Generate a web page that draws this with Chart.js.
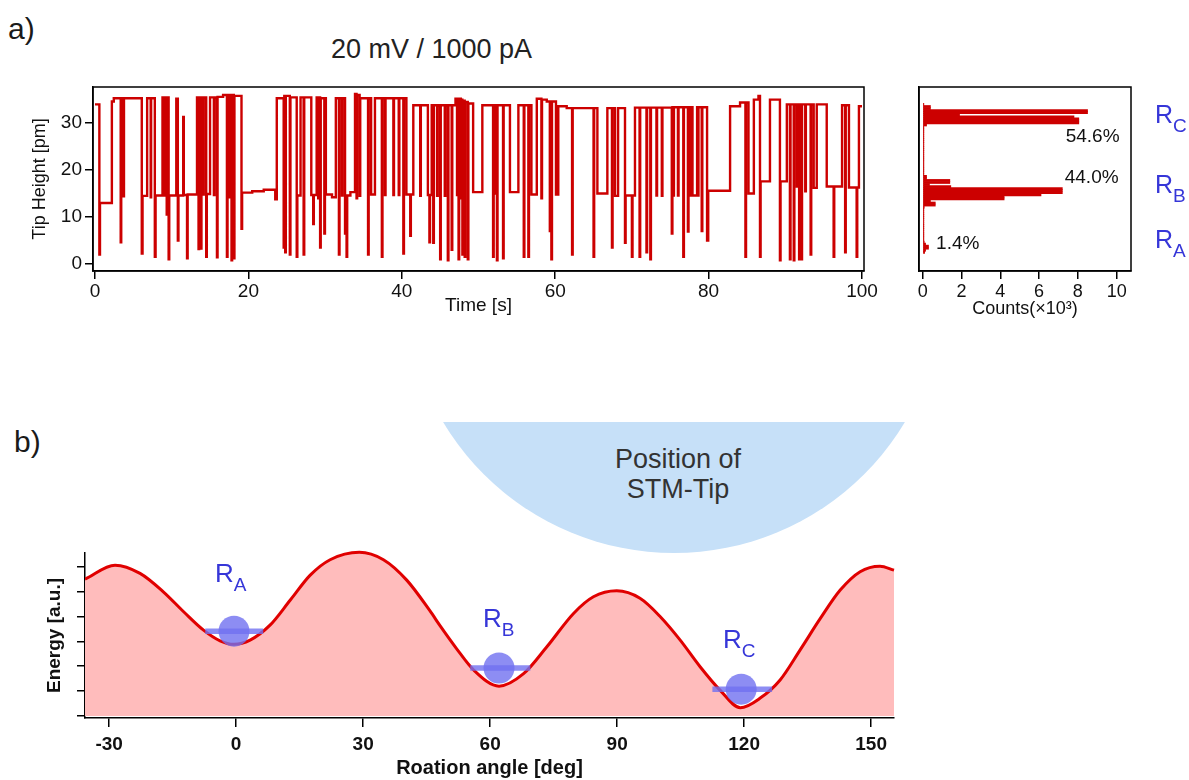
<!doctype html>
<html lang="en">
<head>
<meta charset="utf-8">
<title>Tip height switching</title>
<style>
  * { margin: 0; padding: 0; }
  body { width: 1189px; height: 780px; background: #fff; position: relative; overflow: hidden;
         font-family: 'Liberation Sans', Arial, sans-serif; }
  canvas, .txt, .tip { position: absolute; }
  .txt { line-height: 1; white-space: nowrap; color: #1a1a1a; }
  .tip { left: 443px; top: 422px; width: 462px; height: 131px; overflow: hidden; }
  .tip div { position: absolute; left: -38px; top: -407px; width: 538px; height: 538px;
             border-radius: 50%; background: #c6e0f8; }
  .tipText { position: absolute; left: 578px; top: 445px; width: 200px; text-align: center;
             font-size: 27px; line-height: 29.5px; color: #333; }
</style>
</head>
<body>
  <div class="tip"><div></div></div>
  <div class="txt" style="left:8px;top:14px;font-size:30px;">a)</div>
  <div class="txt" style="left:14px;top:427px;font-size:30px;">b)</div>
  <div class="txt" style="left:331px;top:36px;font-size:27px;color:#222;">20 mV / 1000 pA</div>
  <div class="tipText">Position of<br>STM-Tip</div>

  <canvas id="traceChart" width="880" height="260" style="left:0;top:60px;"></canvas>
  <canvas id="histChart" width="309" height="260" style="left:880px;top:60px;"></canvas>
  <canvas id="energyChart" width="1189" height="260" style="left:0;top:520px;"></canvas>

  <script src="https://cdn.jsdelivr.net/npm/chart.js"></script>
  <script>
    // time trace, step levels (value holds from its time on)
    const traceTime = [
      0.00, 0.57, 0.65, 2.20, 2.45, 3.35, 3.42, 3.70, 3.78, 6.10,
      6.20, 6.80, 7.26, 7.32, 7.80, 7.90, 8.80, 9.05, 9.12, 9.35,
      9.42, 9.60, 9.68, 10.60, 10.80, 10.88, 11.50, 11.58, 12.00, 12.08,
      13.30, 13.50, 13.58, 13.80, 13.88, 14.10, 14.18, 14.50, 14.58, 15.00,
      15.50, 15.58, 15.90, 15.98, 16.70, 17.20, 17.28, 17.50, 17.58, 17.80,
      17.88, 18.10, 18.18, 19.10, 19.18, 20.50, 22.00, 23.50, 23.70, 24.60,
      24.68, 24.80, 24.88, 25.40, 25.48, 26.30, 26.38, 26.80, 27.20, 27.28,
      28.20, 28.45, 28.53, 28.90, 29.10, 29.18, 29.35, 29.43, 29.90, 29.98,
      30.10, 30.90, 31.40, 31.80, 31.88, 32.20, 32.28, 32.60, 32.68, 32.80,
      32.88, 33.30, 33.90, 34.10, 34.18, 34.50, 34.58, 35.60, 35.68, 36.00,
      36.50, 37.40, 37.48, 37.80, 37.88, 38.90, 38.98, 39.60, 39.68, 40.20,
      40.28, 40.60, 41.10, 41.18, 41.50, 42.40, 42.48, 43.40, 43.60, 43.68,
      43.90, 44.10, 44.18, 44.60, 44.68, 45.00, 45.08, 45.60, 45.68, 46.00,
      46.08, 46.50, 46.58, 47.00, 47.20, 47.28, 47.40, 47.48, 47.70, 47.78,
      47.90, 47.98, 48.20, 48.28, 48.60, 48.68, 49.30, 50.50, 51.90, 51.98,
      52.20, 52.40, 52.48, 53.20, 53.28, 54.10, 55.20, 55.90, 55.98, 56.50,
      56.58, 56.90, 57.60, 58.20, 58.28, 58.90, 59.30, 59.38, 59.50, 59.58,
      60.10, 60.40, 61.50, 62.20, 62.28, 65.00, 65.08, 65.50, 66.80, 67.40,
      67.48, 67.80, 68.20, 69.10, 69.18, 70.00, 70.08, 70.40, 71.00, 71.08,
      71.90, 71.98, 72.40, 72.48, 73.20, 73.28, 73.90, 73.98, 75.20, 75.28,
      75.40, 75.48, 76.00, 76.08, 76.70, 76.78, 77.30, 77.38, 77.60, 77.90,
      78.50, 78.60, 78.68, 79.10, 79.18, 79.80, 79.95, 82.80, 84.10, 84.80,
      84.88, 85.20, 85.90, 86.50, 86.70, 86.78, 88.00, 89.30, 89.38, 90.20,
      90.60, 90.68, 91.10, 91.18, 91.50, 91.58, 91.80, 91.88, 92.10, 92.18,
      92.60, 92.68, 93.30, 93.38, 93.70, 94.10, 95.40, 96.30, 96.38, 97.40,
      97.80, 97.88, 98.30, 99.30, 99.38, 99.60, 100.00
    ];
    const traceHeight = [
      34.0, 2.0, 13.0, 34.6, 35.3, 4.6, 35.3, 14.4, 35.3, 2.2,
      14.5, 35.3, 14.2, 35.3, 1.5, 14.6, 35.5, 14.6, 35.5, 10.5,
      35.5, 1.0, 14.6, 35.2, 5.0, 14.6, 31.3, 14.7, 1.2, 14.8,
      35.5, 3.2, 35.5, 3.3, 35.5, 14.8, 35.5, 1.5, 14.9, 35.5,
      14.7, 35.5, 1.4, 35.6, 36.0, 1.5, 36.0, 14.2, 36.0, 0.8,
      36.0, 1.2, 35.8, 7.5, 15.2, 15.5, 15.8, 13.8, 35.3, 3.5,
      35.8, 2.5, 35.8, 2.0, 35.5, 1.5, 14.6, 35.5, 2.0, 35.5,
      14.7, 8.5, 14.7, 35.5, 14.0, 35.5, 3.5, 35.3, 6.5, 35.3,
      14.8, 14.2, 35.3, 2.0, 35.3, 14.6, 35.3, 6.5, 14.6, 1.5,
      14.6, 15.3, 36.2, 14.0, 36.0, 14.5, 35.3, 2.0, 35.3, 14.8,
      35.3, 1.5, 35.3, 14.7, 35.3, 14.7, 35.3, 14.7, 35.3, 2.2,
      35.3, 14.8, 6.0, 14.8, 33.8, 14.5, 33.8, 14.7, 4.6, 14.7,
      33.8, 4.5, 33.8, 14.5, 33.8, 1.0, 33.8, 14.5, 33.8, 0.8,
      33.8, 3.0, 33.8, 35.2, 14.7, 35.2, 1.0, 35.2, 14.0, 35.0,
      2.0, 34.8, 1.5, 34.5, 1.0, 34.2, 15.3, 33.8, 1.5, 33.8,
      15.0, 0.8, 33.8, 1.2, 33.8, 15.3, 33.8, 1.5, 33.8, 1.5,
      33.8, 14.8, 35.2, 14.0, 35.0, 34.6, 7.0, 34.6, 1.0, 34.6,
      14.8, 33.6, 33.2, 2.0, 33.2, 1.5, 33.2, 15.0, 33.2, 3.5,
      33.2, 14.5, 33.2, 4.5, 14.6, 1.5, 14.6, 33.3, 1.5, 33.3,
      2.5, 33.3, 1.0, 33.3, 14.6, 33.3, 14.5, 33.3, 6.5, 33.4,
      14.6, 33.4, 14.6, 33.4, 1.5, 33.4, 6.9, 14.6, 33.4, 14.6,
      33.4, 14.6, 33.4, 7.0, 33.4, 5.0, 15.6, 33.6, 34.4, 1.5,
      34.4, 15.0, 35.0, 35.8, 1.5, 17.6, 35.0, 0.8, 17.6, 34.0,
      1.0, 34.0, 0.8, 34.0, 16.5, 34.0, 1.0, 34.0, 1.0, 34.0,
      15.5, 34.0, 2.0, 34.0, 16.2, 34.0, 16.5, 1.5, 16.5, 33.8,
      2.5, 33.8, 16.3, 1.5, 16.3, 33.6, 33.6
    ];
    const timeTicks = [0, 20, 40, 60, 80, 100];
    const heightTicks = [0, 10, 20, 30];

    // histogram of tip height (bin centres in pm, counts in 10^3)
    const histHeight = [
      0.25, 0.75, 1.25, 1.75, 2.25, 2.75, 3.25, 3.75, 4.25, 4.75,
      5.25, 5.75, 6.25, 6.75, 7.25, 7.75, 8.25, 8.75, 9.25, 9.75,
      10.25, 10.75, 11.25, 11.75, 12.25, 12.75, 13.25, 13.75, 14.25, 14.75,
      15.25, 15.75, 16.25, 16.75, 17.25, 17.75, 18.25, 18.75, 19.25, 19.75,
      20.25, 20.75, 21.25, 21.75, 22.25, 22.75, 23.25, 23.75, 24.25, 24.75,
      25.25, 25.75, 26.25, 26.75, 27.25, 27.75, 28.25, 28.75, 29.25, 29.75,
      30.25, 30.75, 31.25, 31.75, 32.25, 32.75, 33.25, 33.75, 34.25, 34.75,
      35.25, 35.75, 36.25
    ];
    const histCount = [
      0.10, 0.15, 0.30, 0.30, 0.15, 0.08, 0.06, 0.06, 0.06, 0.06,
      0.06, 0.06, 0.06, 0.06, 0.06, 0.06, 0.06, 0.06, 0.06, 0.06,
      0.06, 0.06, 0.08, 0.65, 0.65, 0.40, 4.20, 4.20, 6.10, 7.20,
      7.20, 7.20, 1.45, 0.35, 1.40, 1.40, 0.20, 0.20, 0.06, 0.06,
      0.06, 0.06, 0.06, 0.06, 0.06, 0.06, 0.06, 0.06, 0.06, 0.06,
      0.06, 0.06, 0.06, 0.06, 0.06, 0.06, 0.06, 0.06, 0.06, 0.06,
      0.06, 0.06, 0.20, 8.05, 8.05, 8.05, 7.80, 1.90, 8.50, 8.50,
      0.40, 0.40, 0.06
    ];
    const countTicks = [0, 2, 4, 6, 8, 10];
    const pctText = ['54.6%', '44.0%', '1.4%'];
    const pctCount = [10.15, 10.1, 0.69];
    const pctHeight = [28.3, 18.3, 2.3];
    const pctAlign = ['right', 'right', 'left'];
    const sideSub = ['C', 'B', 'A'];
    const sideHeight = [33.9, 16.8, 3.4];

    // energy landscape
    const angle = [
      -35.7, -28.6, -22.7, -17.2, -12.4, -7.7, -3.8, -0.5, 3.3, 8.0,
      12.8, 17.5, 22.2, 29.1, 34.8, 40.3, 45.8, 48.2, 52.1, 56.1,
      62.1, 67.9, 73.4, 79.7, 84.4, 89.9, 95.4, 100.2, 104.9, 109.6,
      114.3, 119.1, 123.8, 128.5, 133.2, 138.0, 142.7, 147.4, 152.1, 155.4
    ];
    const energy = [
      5.50, 6.06, 5.73, 4.99, 4.19, 3.45, 3.02, 2.88, 3.05, 3.65,
      4.66, 5.66, 6.28, 6.58, 6.28, 5.46, 4.22, 3.62, 2.70, 1.85,
      1.20, 1.70, 2.78, 4.12, 4.79, 5.03, 4.73, 3.99, 3.05, 1.98,
      1.04, 0.33, 0.72, 1.45, 2.65, 3.92, 5.06, 5.80, 6.02, 5.86
    ];
    const angleTicks = [-30, 0, 30, 60, 90, 120, 150];
    const energyTicks = [0, 1, 2, 3, 4, 5, 6];
    const wellSub = ['A', 'B', 'C'];
    const wellAngle = [-0.5, 62.1, 119.3];
    const wellEnergy = [3.41, 1.93, 1.08];
    const wellFrom = [-7.3, 55.3, 112.5];
    const wellTo = [6.4, 69.5, 126.6];
    const wellLabelAngle = [-5.0, 58.3, 115.0];
    const wellLabelEnergy = [5.74, 3.94, 3.09];

    const fontFamily = "'Liberation Sans', Arial, sans-serif";
    const traceRed = '#cc0000';
    const labelBlue = '#3636d8';
    const ballBlue = 'rgba(112, 112, 240, 0.8)';
    Chart.defaults.font.family = fontFamily;
    Chart.defaults.color = '#111';
    Chart.defaults.animation = false;
    Chart.defaults.plugins.legend.display = false;
    Chart.defaults.plugins.tooltip.enabled = false;

    const setTicks = list => scale => { scale.ticks = list.map(v => ({ value: v })); };
    const tickGrid = len => ({ drawOnChartArea: false, drawTicks: true, tickLength: len, color: '#000', lineWidth: 1.5 });
    const axisLine = { display: true, color: '#000', width: 1.5 };

    function drawSubLabel(ctx, x, yCenter, sub, size, subSize) {
      ctx.save();
      ctx.fillStyle = labelBlue;
      ctx.textAlign = 'left';
      ctx.textBaseline = 'alphabetic';
      ctx.font = size + 'px ' + fontFamily;
      const base = yCenter + size * 0.358;
      ctx.fillText('R', x, base);
      const w = ctx.measureText('R').width;
      ctx.font = subSize + 'px ' + fontFamily;
      ctx.fillText(sub, x + w, base + subSize * 0.47);
      ctx.restore();
    }

    const framePlugin = {
      id: 'frame',
      afterDraw(chart) {
        const { ctx, chartArea: a } = chart;
        ctx.save();
        ctx.strokeStyle = '#000';
        ctx.lineWidth = 1.5;
        ctx.strokeRect(a.left, a.top, a.right - a.left, a.bottom - a.top);
        ctx.restore();
      }
    };

    // a) tip height trace
    new Chart(document.getElementById('traceChart'), {
      type: 'line',
      data: {
        datasets: [{
          data: traceTime.map((t, i) => ({ x: t, y: traceHeight[i] })),
          stepped: true,
          borderColor: traceRed,
          borderWidth: 2.4,
          pointRadius: 0
        }]
      },
      options: {
        responsive: false,
        devicePixelRatio: 1,
        layout: { padding: { left: 0, top: 27, right: 16, bottom: 0 } },
        scales: {
          x: {
            type: 'linear', min: -0.26, max: 100.26,
            afterBuildTicks: setTicks(timeTicks),
            afterFit: s => { s.height = 49; },
            grid: tickGrid(8),
            border: axisLine,
            ticks: { font: { size: 19 }, padding: 1, maxRotation: 0 },
            title: { display: true, text: 'Time [s]', font: { size: 19 }, padding: { top: 0, bottom: 2.6 } }
          },
          y: {
            type: 'linear', min: -1.5, max: 37.7,
            afterBuildTicks: setTicks(heightTicks),
            afterFit: s => { s.width = 93; },
            grid: tickGrid(8),
            border: axisLine,
            ticks: { font: { size: 19 }, padding: 3 },
            title: { display: true, text: 'Tip Height [pm]', font: { size: 18 }, padding: { top: 29.2, bottom: 0 } }
          }
        }
      },
      plugins: [framePlugin]
    });

    // a) histogram
    const histLabels = {
      id: 'histLabels',
      afterDraw(chart) {
        const { ctx, scales: { x, y }, chartArea } = chart;
        ctx.save();
        ctx.fillStyle = '#111';
        ctx.font = '19px ' + fontFamily;
        ctx.textBaseline = 'middle';
        pctText.forEach((t, i) => {
          ctx.textAlign = pctAlign[i];
          ctx.fillText(t, x.getPixelForValue(pctCount[i]), y.getPixelForValue(pctHeight[i]));
        });
        ctx.restore();
        sideSub.forEach((s, i) => {
          drawSubLabel(ctx, chartArea.right + 24, y.getPixelForValue(sideHeight[i]), s, 25, 19);
        });
      }
    };
    new Chart(document.getElementById('histChart'), {
      type: 'bar',
      data: {
        datasets: [{
          data: histHeight.map((h, i) => ({ x: histCount[i], y: h })),
          backgroundColor: traceRed,
          borderWidth: 0,
          barPercentage: 1,
          categoryPercentage: 1
        }]
      },
      options: {
        responsive: false,
        devicePixelRatio: 1,
        indexAxis: 'y',
        layout: { padding: { left: 0, top: 27, right: 58, bottom: 0 } },
        scales: {
          x: {
            type: 'linear', min: -0.19, max: 10.74,
            afterBuildTicks: setTicks(countTicks),
            afterFit: s => { s.height = 49; },
            grid: tickGrid(8),
            border: axisLine,
            ticks: { font: { size: 18 }, padding: 2, maxRotation: 0 },
            title: { display: true, text: 'Counts(×10³)', font: { size: 18 }, padding: { top: 0, bottom: 0 } }
          },
          y: {
            type: 'linear', min: -1.5, max: 37.7,
            afterFit: s => { s.width = 39; },
            grid: { display: false },
            border: axisLine,
            ticks: { display: false }
          }
        }
      },
      plugins: [framePlugin, histLabels]
    });

    // b) energy landscape
    const wellLabels = {
      id: 'wellLabels',
      afterDatasetsDraw(chart) {
        const { ctx, scales: { x, y } } = chart;
        wellSub.forEach((s, i) => {
          drawSubLabel(ctx, x.getPixelForValue(wellLabelAngle[i]), y.getPixelForValue(wellLabelEnergy[i]), s, 26, 19);
        });
      }
    };
    const wellBars = wellSub.map((s, i) => ({
      data: [{ x: wellFrom[i], y: wellEnergy[i] }, { x: wellTo[i], y: wellEnergy[i] }],
      borderColor: ballBlue,
      borderWidth: 5.5,
      pointRadius: 0,
      order: 2
    }));
    new Chart(document.getElementById('energyChart'), {
      type: 'line',
      data: {
        datasets: [{
          data: wellAngle.map((a, i) => ({ x: a, y: wellEnergy[i] })),
          showLine: false,
          pointRadius: 15.5,
          pointBackgroundColor: ballBlue,
          pointBorderWidth: 0,
          order: 1
        }, ...wellBars, {
          data: angle.map((a, i) => ({ x: a, y: energy[i] })),
          borderColor: '#e00000',
          borderWidth: 3,
          backgroundColor: '#ffbcbc',
          fill: 'origin',
          cubicInterpolationMode: 'monotone',
          pointRadius: 0,
          clip: { left: 0, top: 6, right: 2, bottom: 0 },
          order: 3
        }]
      },
      options: {
        responsive: false,
        devicePixelRatio: 1,
        layout: { padding: { left: 0, top: 33, right: 295, bottom: 0 } },
        scales: {
          x: {
            type: 'linear', min: -35.7, max: 155.4,
            afterBuildTicks: setTicks(angleTicks),
            afterFit: s => { s.height = 62; },
            grid: tickGrid(9),
            border: axisLine,
            ticks: { font: { size: 19, weight: 'bold' }, padding: 6, maxRotation: 0 },
            title: { display: true, text: 'Roation angle [deg]', font: { size: 20, weight: 'bold' }, padding: { top: 0, bottom: 0 } }
          },
          y: {
            type: 'linear', min: -0.08, max: 6.55,
            afterBuildTicks: setTicks(energyTicks),
            afterFit: s => { s.width = 85; },
            grid: tickGrid(8),
            border: axisLine,
            ticks: { display: false },
            title: { display: true, text: 'Energy [a.u.]', font: { size: 19, weight: 'bold' }, padding: { top: 43.6, bottom: 0 } }
          }
        }
      },
      plugins: [wellLabels]
    });
  </script>
</body>
</html>
